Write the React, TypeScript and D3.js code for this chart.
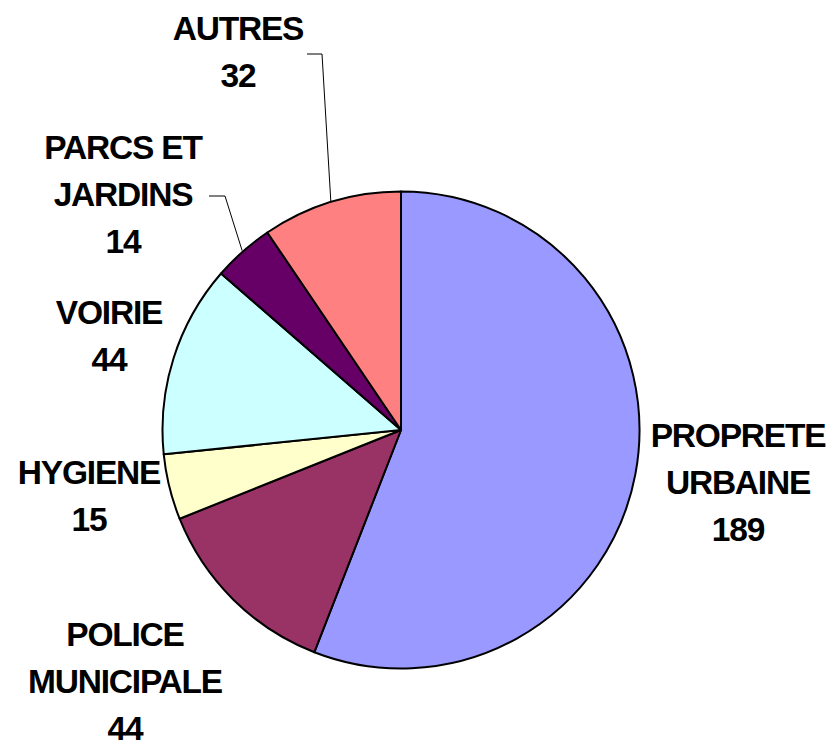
import { useMemo } from 'react';
import * as d3 from 'd3';

const categories = ["PROPRETE URBAINE", "POLICE MUNICIPALE", "HYGIENE", "VOIRIE", "PARCS ET JARDINS", "AUTRES"];
const values = [189, 44, 15, 44, 14, 32];
const colors = ["#9999FF", "#993366", "#FFFFCC", "#CCFFFF", "#660066", "#FF8080"];
const labelLines = [["PROPRETE", "URBAINE"], ["POLICE", "MUNICIPALE"], ["HYGIENE"], ["VOIRIE"], ["PARCS ET", "JARDINS"], ["AUTRES"]];

// label layout: centre x, first baseline, optional leader (elbow x, text end x)
const labelLayout = [
  { x: 738, y: 447 },
  { x: 125, y: 646 },
  { x: 89, y: 484 },
  { x: 109, y: 324 },
  { x: 123, y: 159, leader: { elbowX: 225, endX: 209, y: 196 } },
  { x: 238, y: 40, leader: { elbowX: 322, endX: 307, y: 54 } },
];

const WIDTH = 831;
const HEIGHT = 742;
const CX = 401;
const CY = 430;
const RADIUS = 238.5;
const LINE_H = 47;

export default function App() {
  const slices = useMemo(() => {
    const pie = d3.pie<number>().value(d => d).sort(null);
    return pie(values);
  }, []);

  const arc = d3.arc<d3.PieArcDatum<number>>().innerRadius(0).outerRadius(RADIUS);

  return (
    <svg width={WIDTH} height={HEIGHT} style={{ position: 'absolute', left: 0, top: 0, background: '#fff' }}
      fontFamily="'Liberation Sans', Arial, sans-serif">
      <g transform={`translate(${CX},${CY})`}>
        {slices.map((s, i) => (
          <path key={categories[i]} d={arc(s) || ''} fill={colors[i]} stroke="#000" strokeWidth={2} strokeLinejoin="round" />
        ))}
      </g>
      {slices.map((s, i) => {
        const lay = labelLayout[i];
        if (!lay.leader) return null;
        const mid = (s.startAngle + s.endAngle) / 2;
        const ex = CX + (RADIUS + 1) * Math.sin(mid);
        const ey = CY - (RADIUS + 1) * Math.cos(mid);
        const pts: [number, number][] = [[lay.leader.endX, lay.leader.y], [lay.leader.elbowX, lay.leader.y], [ex, ey]];
        return <path key={'l' + i} d={d3.line()(pts) || ''} fill="none" stroke="#000" strokeWidth={1} />;
      })}
      {slices.map((s, i) => {
        const lay = labelLayout[i];
        const lines = [...labelLines[i], String(values[i])];
        return (
          <text key={'t' + i} textAnchor="middle" fontSize={33.5} fontWeight="bold" letterSpacing={-1.2} fill="#000">
            {lines.map((ln, j) => (
              <tspan key={j} x={lay.x} y={lay.y + j * LINE_H}>{ln}</tspan>
            ))}
          </text>
        );
      })}
    </svg>
  );
}
